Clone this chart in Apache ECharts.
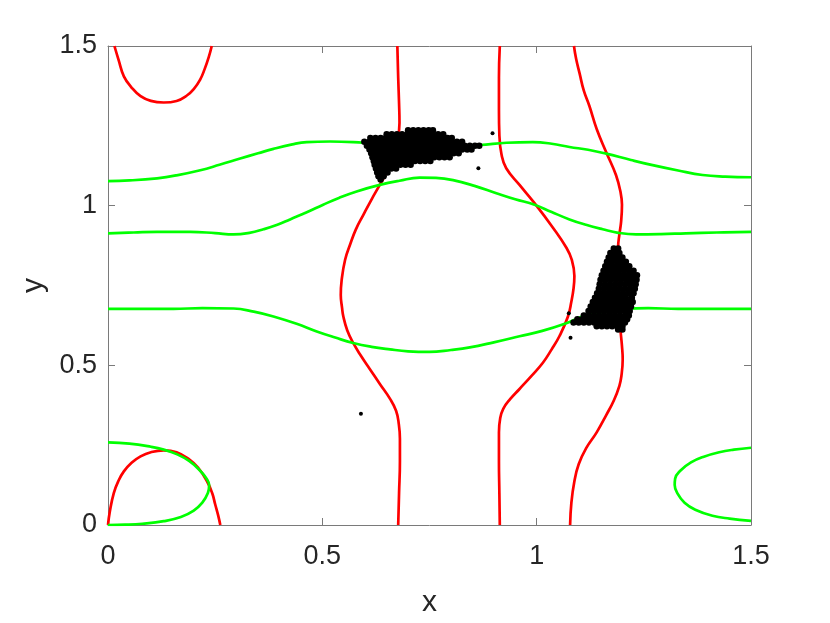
<!DOCTYPE html>
<html>
<head>
<meta charset="utf-8">
<script src="https://cdn.jsdelivr.net/npm/echarts@6/dist/echarts.min.js"></script>
<style>
  html, body { margin: 0; padding: 0; background: #fff; }
  #chart { width: 830px; height: 623px; }
</style>
</head>
<body>
<div id="chart"></div>
<script>
// red curves (x-nullcline pieces)
const redTopLeft = [[0.015,1.5],[0.025,1.455],[0.037,1.405],[0.055,1.37],[0.076,1.343],[0.10,1.328],[0.13,1.323],[0.16,1.328],[0.184,1.345],[0.20,1.365],[0.215,1.395],[0.225,1.426],[0.235,1.465],[0.242,1.5]]
const redBottomLeft = [[0,0],[0.004,0.04],[0.0135,0.10],[0.025,0.14],[0.037,0.168],[0.055,0.195],[0.076,0.215],[0.10,0.228],[0.13,0.234],[0.16,0.228],[0.19,0.205],[0.21,0.18],[0.231,0.137],[0.243,0.10],[0.25,0.065],[0.257,0.03],[0.262,0]]
const redMidLeft = [[0.675,1.5],[0.677,1.40],[0.679,1.32],[0.68,1.26],[0.676,1.21],[0.665,1.155],[0.652,1.11],[0.634,1.065],[0.615,1.02],[0.596,0.972],[0.578,0.925],[0.565,0.879],[0.553,0.83],[0.545,0.766],[0.543,0.72],[0.546,0.68],[0.549,0.653],[0.558,0.61],[0.572,0.570],[0.59,0.53],[0.611,0.488],[0.635,0.44],[0.658,0.395],[0.672,0.358],[0.678,0.32],[0.681,0.27],[0.681,0.2],[0.679,0.1],[0.677,0]]
const redMidRight = [[0.914,1.5],[0.912,1.40],[0.912,1.30],[0.913,1.22],[0.918,1.16],[0.929,1.117],[0.960,1.065],[0.995,1.008],[1.038,0.931],[1.069,0.869],[1.082,0.83],[1.088,0.78],[1.086,0.74],[1.081,0.70],[1.073,0.653],[1.053,0.591],[1.035,0.55],[1.0145,0.508],[0.988,0.467],[0.960,0.426],[0.938,0.394],[0.922,0.364],[0.915,0.335],[0.912,0.29],[0.912,0.2],[0.913,0.1],[0.914,0]]
const redRight = [[1.087,1.5],[1.092,1.46],[1.10,1.415],[1.11,1.36],[1.123,1.312],[1.14,1.24],[1.162,1.168],[1.185,1.096],[1.196,1.04],[1.199,1.003],[1.197,0.95],[1.193,0.91],[1.19,0.87],[1.19,0.80],[1.192,0.70],[1.195,0.62],[1.199,0.56],[1.2007,0.519],[1.198,0.47],[1.193,0.436],[1.18,0.39],[1.162,0.3435],[1.14,0.29],[1.1155,0.2406],[1.098,0.19],[1.088,0.137],[1.081,0.07],[1.078,0]]

// green curves (y-nullcline pieces)
const greenTop = [[0,1.077],[0.05,1.079],[0.1145,1.0857],[0.16,1.095],[0.2153,1.111],[0.26,1.128],[0.3084,1.1475],[0.35,1.164],[0.386,1.178],[0.43,1.192],[0.4637,1.199],[0.518,1.201],[0.5955,1.197],[0.68,1.19],[0.75,1.187],[0.82,1.188],[0.867,1.19],[0.93,1.197],[0.991,1.199],[1.035,1.194],[1.0766,1.1837],[1.12,1.175],[1.162,1.163],[1.22,1.143],[1.2705,1.1268],[1.33,1.11],[1.387,1.096],[1.44,1.091],[1.5,1.089]]
const greenUpper = [[0,0.9135],[0.06,0.916],[0.1145,0.918],[0.192,0.918],[0.25,0.914],[0.293,0.910],[0.33,0.915],[0.3627,0.926],[0.395,0.94],[0.4248,0.957],[0.465,0.98],[0.502,1.003],[0.54,1.025],[0.580,1.0445],[0.634,1.065],[0.68,1.078],[0.727,1.088],[0.765,1.087],[0.805,1.080],[0.855,1.062],[0.906,1.039],[0.95,1.02],[0.995,1.003],[1.035,0.98],[1.0766,0.957],[1.115,0.94],[1.154,0.926],[1.19,0.915],[1.232,0.910],[1.29,0.911],[1.348,0.9135],[1.42,0.916],[1.5,0.918]]
const greenLower = [[0,0.6766],[0.08,0.677],[0.153,0.677],[0.22,0.679],[0.293,0.678],[0.34,0.668],[0.386,0.653],[0.44,0.63],[0.487,0.606],[0.53,0.587],[0.572,0.570],[0.615,0.558],[0.658,0.550],[0.70,0.544],[0.75,0.542],[0.80,0.548],[0.844,0.556],[0.90,0.572],[0.96,0.591],[1.013,0.608],[1.069,0.632],[1.1115,0.655],[1.16,0.668],[1.207,0.677],[1.26,0.679],[1.33,0.677],[1.42,0.677],[1.5,0.6766]]
const greenLoopLeft = [[0,0.259],[0.05,0.255],[0.10,0.245],[0.13,0.236],[0.16,0.222],[0.19,0.20],[0.215,0.17],[0.23,0.145],[0.236,0.125],[0.233,0.10],[0.22,0.07],[0.20,0.045],[0.17,0.025],[0.13,0.012],[0.08,0.004],[0.04,0.001],[0,0]]
const greenLoopRight = [[1.5,0.242],[1.46,0.236],[1.426,0.228],[1.39,0.214],[1.36,0.196],[1.335,0.17],[1.323,0.145],[1.322,0.125],[1.328,0.10],[1.345,0.07],[1.37,0.048],[1.41,0.029],[1.45,0.02],[1.5,0.013]]

// black trajectory points: two dense clusters, listed row by row, plus strays
const clusterAY = [1.236, 1.224, 1.212, 1.200, 1.188, 1.176, 1.164, 1.152, 1.140, 1.128, 1.116, 1.104, 1.092, 1.082]
const clusterAX = [
  [0.700, 0.712, 0.724, 0.736, 0.748, 0.758],
  [0.650, 0.662, 0.674, 0.686, 0.698, 0.710, 0.722, 0.734, 0.746, 0.758, 0.770, 0.782],
  [0.612, 0.624, 0.636, 0.648, 0.660, 0.672, 0.684, 0.696, 0.708, 0.720, 0.732, 0.744, 0.756, 0.768, 0.780, 0.792, 0.802],
  [0.598, 0.610, 0.622, 0.634, 0.646, 0.658, 0.670, 0.682, 0.694, 0.706, 0.718, 0.730, 0.742, 0.754, 0.766, 0.778, 0.790, 0.802, 0.814, 0.826],
  [0.604, 0.616, 0.628, 0.640, 0.652, 0.664, 0.676, 0.688, 0.700, 0.712, 0.724, 0.736, 0.748, 0.760, 0.772, 0.784, 0.796, 0.808, 0.820, 0.832, 0.844, 0.856, 0.866],
  [0.610, 0.622, 0.634, 0.646, 0.658, 0.670, 0.682, 0.694, 0.706, 0.718, 0.730, 0.742, 0.754, 0.766, 0.778, 0.790, 0.802, 0.814, 0.826, 0.838, 0.848],
  [0.614, 0.626, 0.638, 0.650, 0.662, 0.674, 0.686, 0.698, 0.710, 0.722, 0.734, 0.746, 0.758, 0.770, 0.782, 0.794, 0.806, 0.818],
  [0.617, 0.629, 0.641, 0.653, 0.665, 0.677, 0.689, 0.701, 0.713, 0.725, 0.737, 0.749, 0.761, 0.773, 0.785, 0.797],
  [0.620, 0.632, 0.644, 0.656, 0.668, 0.680, 0.692, 0.704, 0.716, 0.728, 0.740, 0.752],
  [0.622, 0.634, 0.646, 0.658, 0.670, 0.682, 0.694, 0.706],
  [0.625, 0.637, 0.649, 0.661, 0.672],
  [0.628, 0.640, 0.652],
  [0.631, 0.643],
  [0.636]
]
const clusterBY = [0.866, 0.852, 0.838, 0.824, 0.810, 0.796, 0.782, 0.768, 0.754, 0.740, 0.726, 0.712, 0.698, 0.684, 0.670, 0.656, 0.644, 0.634, 0.622, 0.612]
const clusterBX = [
  [1.180, 1.190],
  [1.172, 1.184, 1.193],
  [1.168, 1.180, 1.192, 1.200],
  [1.164, 1.176, 1.188, 1.200, 1.208],
  [1.160, 1.172, 1.184, 1.196, 1.208, 1.216],
  [1.156, 1.168, 1.180, 1.192, 1.204, 1.216, 1.226],
  [1.152, 1.164, 1.176, 1.188, 1.200, 1.212, 1.224, 1.234],
  [1.149, 1.161, 1.173, 1.185, 1.197, 1.209, 1.221, 1.233],
  [1.147, 1.159, 1.171, 1.183, 1.195, 1.207, 1.219, 1.231],
  [1.145, 1.157, 1.169, 1.181, 1.193, 1.205, 1.217, 1.229],
  [1.141, 1.153, 1.165, 1.177, 1.189, 1.201, 1.213, 1.226],
  [1.136, 1.148, 1.160, 1.172, 1.184, 1.196, 1.208, 1.222],
  [1.131, 1.143, 1.155, 1.167, 1.179, 1.191, 1.203, 1.215, 1.224],
  [1.126, 1.138, 1.150, 1.162, 1.174, 1.186, 1.198, 1.210, 1.220],
  [1.121, 1.133, 1.145, 1.157, 1.169, 1.181, 1.193, 1.205, 1.217],
  [1.110, 1.122, 1.134, 1.146, 1.158, 1.170, 1.182, 1.194, 1.206, 1.215],
  [1.095, 1.107, 1.119, 1.131, 1.143, 1.155, 1.167, 1.179, 1.191, 1.203, 1.211],
  [1.086, 1.098, 1.110, 1.122, 1.134, 1.146, 1.158, 1.170, 1.182, 1.194, 1.206],
  [1.140, 1.152, 1.164, 1.176, 1.188, 1.200],
  [1.190, 1.200]
]
const strayPoints = [[0.590, 0.348], [0.897, 1.227], [0.864, 1.117], [1.075, 0.663], [1.079, 0.586]]

const axisTicks = [0, 0.5, 1, 1.5]

function rowsToPoints(ys, xs) {
  const pts = []
  ys.forEach((y, i) => xs[i].forEach(x => pts.push([x, y])))
  return pts
}

const chart = echarts.init(document.getElementById('chart'))

const fontFamily = 'Liberation Sans, Arial, Helvetica, sans-serif'
const axisColor = '#7a7a7a'

function lineSeries(data, color) {
  return {
    type: 'line',
    data: data,
    showSymbol: false,
    smooth: 0.45,
    silent: true,
    lineStyle: { color: color, width: 2.7 },
    z: 2
  }
}

function baseAxis(extra) {
  return Object.assign({
    type: 'value',
    min: axisTicks[0],
    max: axisTicks[axisTicks.length - 1],
    interval: 0.5,
    splitLine: { show: false },
    axisLine: { show: true, onZero: false, lineStyle: { color: axisColor, width: 1 } },
    axisTick: { show: true, inside: true, length: 7, lineStyle: { color: axisColor } },
    axisLabel: { show: true, color: '#262626', fontSize: 27, fontFamily: fontFamily }
  }, extra)
}

const option = {
  animation: false,
  backgroundColor: '#fff',
  grid: { left: 108, right: 79, top: 46, bottom: 92, containLabel: false },
  xAxis: [
    baseAxis({
      position: 'bottom',
      name: 'x',
      nameLocation: 'middle',
      nameGap: 63,
      nameTextStyle: { color: '#262626', fontSize: 30, fontFamily: fontFamily },
      axisLabel: { color: '#262626', fontSize: 27, fontFamily: fontFamily, margin: 18 }
    }),
    baseAxis({ position: 'top', axisLabel: { show: false } })
  ],
  yAxis: [
    baseAxis({
      position: 'left',
      name: 'y',
      nameLocation: 'middle',
      nameGap: 55,
      nameTextStyle: { color: '#262626', fontSize: 30, fontFamily: fontFamily },
      axisLabel: { color: '#262626', fontSize: 27, fontFamily: fontFamily, margin: 11 }
    }),
    baseAxis({ position: 'right', axisLabel: { show: false } })
  ],
  series: [
    lineSeries(redTopLeft, '#ff0000'),
    lineSeries(redBottomLeft, '#ff0000'),
    lineSeries(redMidLeft, '#ff0000'),
    lineSeries(redMidRight, '#ff0000'),
    lineSeries(redRight, '#ff0000'),
    lineSeries(greenTop, '#00ff00'),
    lineSeries(greenUpper, '#00ff00'),
    lineSeries(greenLower, '#00ff00'),
    lineSeries(greenLoopLeft, '#00ff00'),
    lineSeries(greenLoopRight, '#00ff00'),
    {
      type: 'scatter',
      data: rowsToPoints(clusterAY, clusterAX).concat(rowsToPoints(clusterBY, clusterBX)),
      symbolSize: 6.5,
      itemStyle: { color: '#000', opacity: 1, borderWidth: 0 },
      silent: true,
      z: 5
    },
    {
      type: 'scatter',
      data: strayPoints,
      symbolSize: 4,
      itemStyle: { color: '#000', opacity: 1, borderWidth: 0 },
      silent: true,
      z: 5
    }
  ]
}

chart.setOption(option)
</script>
</body>
</html>
